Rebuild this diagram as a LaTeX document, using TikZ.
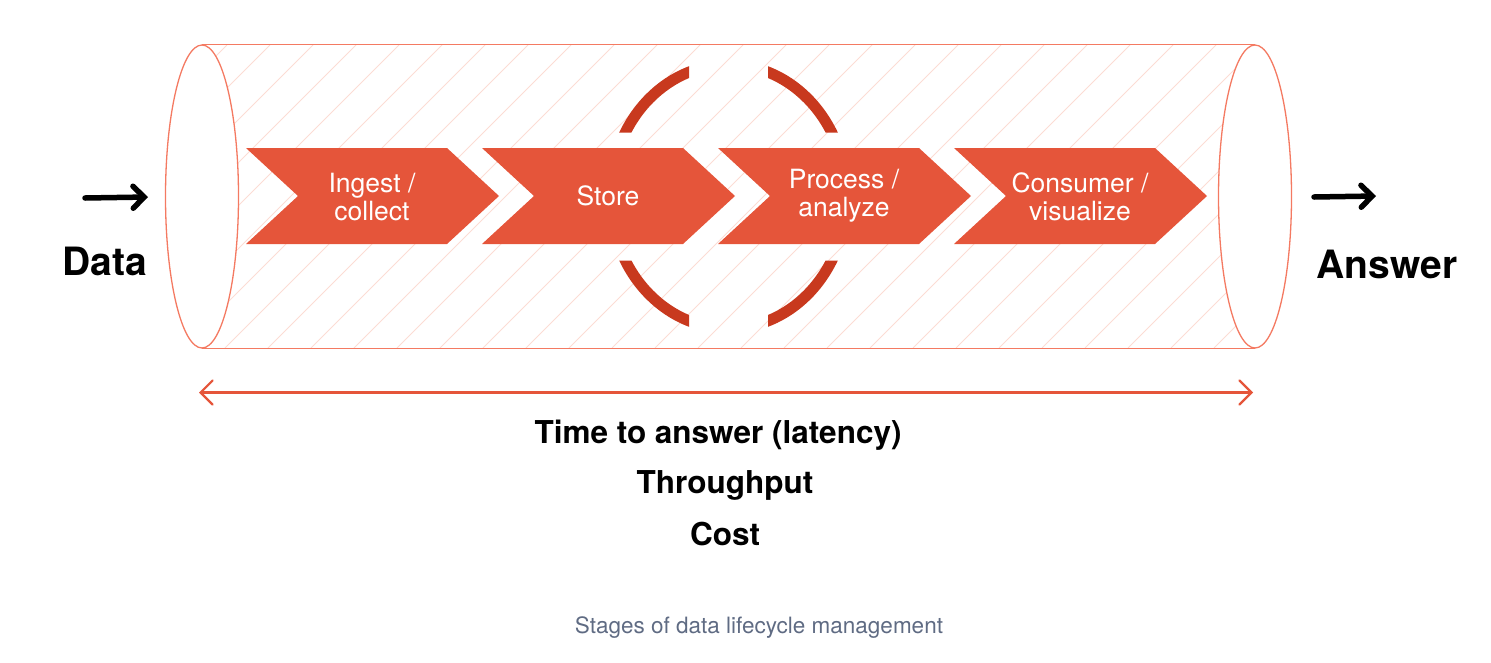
\documentclass[tikz,border=0pt]{standalone}
\usepackage{fontspec}
\setmainfont{TeX Gyre Heros}
\usetikzlibrary{arrows.meta,shapes.geometric}
\definecolor{chev}{HTML}{E5553A}
\definecolor{ring}{HTML}{C8391E}
\definecolor{tube}{HTML}{F47A62}
\definecolor{hatchc}{HTML}{FCDCD4}
\definecolor{captc}{HTML}{5F6B83}
\tikzset{
  lbl/.style={font=\fontsize{39}{46}\selectfont\bfseries, anchor=base, inner sep=0pt},
  metric/.style={font=\fontsize{31.5}{38}\selectfont\bfseries, anchor=base, inner sep=0pt},
  chtext/.style={font=\fontsize{26.5}{30}\selectfont, text=white, anchor=base, inner sep=0pt},
  capt/.style={font=\fontsize{22.5}{27}\selectfont, text=captc, anchor=base, inner sep=0pt},
  tubeend/.style={ellipse, draw=tube, fill=white, line width=1.3pt, minimum width=73pt, minimum height=303pt, inner sep=0pt},
  tubeline/.style={draw=tube, line width=1.3pt},
  chevshape/.style={fill=chev},
  blackarrow/.style={line width=5.5pt, line cap=round, -{Straight Barb[length=11pt,width=22pt,line width=5.5pt,line cap=round]}},
  spanarrow/.style={draw=chev, line width=2.2pt, {Straight Barb[length=12pt,width=24pt,line cap=round]}-{Straight Barb[length=12pt,width=24pt,line cap=round]}}
}
\begin{document}
\begin{tikzpicture}[x=1pt,y=-1pt]
\useasboundingbox (0,0) rectangle (1491,662);
% hatching inside the tube
\begin{scope}
  \clip (202,45) rectangle (1255,348);
  \foreach \k in {-4,...,31} \draw[hatchc, line width=1pt] (10+\k*43,348) -- ++(303,-303);
\end{scope}
% tube ends
\node[tubeend] (lend) at (202,196.5) {};
\node[tubeend] (rend) at (1255,196.5) {};
\draw[tubeline] (lend.north) -- (rend.north);
\draw[tubeline] (lend.south) -- (rend.south);
% chevrons
\foreach \L in {246,482,718,954}
  \fill[chevshape] (\L,148) -- (\L+201,148) -- (\L+253,196) -- (\L+201,244) -- (\L,244) -- (\L+52,196) -- cycle;
\node[chtext] (ing1) at (372,192.3) {Ingest /};
\node[chtext] (ing2) at (372,220.7) {collect};
\node[chtext] (sto) at (608,205.5) {Store};
\node[chtext] (pro1) at (844,188.3) {Process /};
\node[chtext] (pro2) at (844,216.7) {analyze};
\node[chtext] (con1) at (1080,192.3) {Consumer /};
\node[chtext] (con2) at (1080,220.7) {visualize};
% broken ring
\begin{scope}
  \clip (0,0) rectangle (689,132.5) (768,0) rectangle (1491,132.5)
        (0,260.5) rectangle (689,662) (768,260.5) rectangle (1491,662);
  \draw[ring, line width=11pt] (728.5,196.5) ellipse [x radius=118, y radius=132];
\end{scope}
% data in / answer out
\node[lbl] (data) at (105,275.5) {Data};
\node[lbl] (answer) at (1387,278) {Answer};
\coordinate (din) at (85,198);
\coordinate (dout) at (148,197);
\coordinate (ain) at (1314,197);
\coordinate (aout) at (1376,196);
\draw[blackarrow] (din) -- (dout);
\draw[blackarrow] (ain) -- (aout);
% span arrow
\coordinate (sl) at (199,392.5);
\coordinate (sr) at (1253,392.5);
\draw[spanarrow] (sl) -- (sr);
% metrics
\node[metric] (m1) at (718,443) {Time to answer (latency)};
\node[metric] (m2) at (725,493.3) {Throughput};
\node[metric] (m3) at (725,545) {Cost};
\node[capt] (cap) at (759,633) {Stages of data lifecycle management};
\end{tikzpicture}
\end{document}
